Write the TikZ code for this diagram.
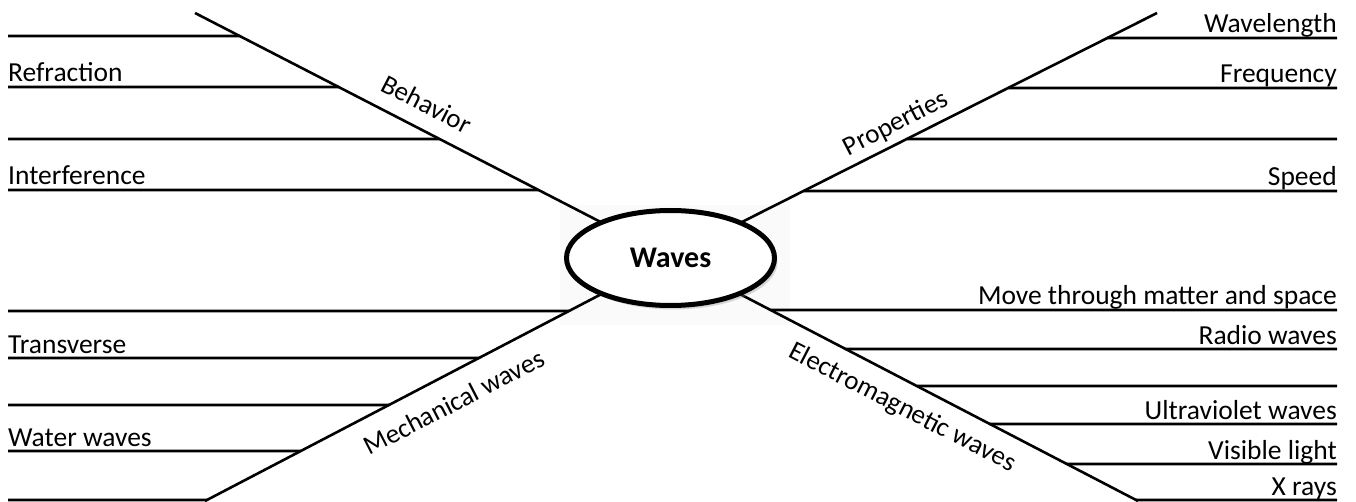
\documentclass[tikz,border=0pt]{standalone}
\usepackage{fontspec}
\setmainfont{Carlito}
\usetikzlibrary{shapes.geometric,shadows,calc}

\tikzset{
  spine/.style={line width=2.6pt},
  rule/.style={line width=2.6pt},
  leafleft/.style={anchor=base west, inner sep=0pt, font=\fontsize{27.5}{30}\selectfont},
  leafright/.style={anchor=base east, inner sep=0pt, font=\fontsize{27.5}{30}\selectfont},
  branchlabel/.style={inner sep=0pt, font=\fontsize{27}{30}\selectfont},
  hubnode/.style={ellipse, draw, line width=5pt, fill=white, minimum width=208pt,
    minimum height=95pt, font=\bfseries\fontsize{30}{34}\selectfont,
    drop shadow={opacity=0.3, shadow xshift=3pt, shadow yshift=-4pt}}
}

\begin{document}
\begin{tikzpicture}[x=1pt,y=-1pt]
    \useasboundingbox (0,0) rectangle (1356,502);

    % Faint backdrop behind the hub
    \fill[black!2] (560,205) rectangle (790,325);

    % Hub and outer ends of the four branches
    \coordinate (hub) at (670.5,258);
    \coordinate (bhv) at (195,13);
    \coordinate (prp) at (1157,13);
    \coordinate (mch) at (205,501);
    \coordinate (emw) at (1138,501);

    % Draw the four branches
    \foreach \e in {bhv,prp,mch,emw} {
        \draw[spine] (\e) -- (hub);
    }

    % Behavior
    \foreach \y/\txt in {36/{},87/Refraction,139/{},190/Interference} {
        \draw[rule] (8,\y) -- ($(bhv)!{(\y-13)/245}!(hub)$);
        \node[leafleft] (bhv-\y) at (8,\y-5) {\txt};
    }
    \node[branchlabel, rotate=-27.3] (bhv-label) at (427,104) {Behavior};

    % Properties
    \foreach \y/\txt in {38/Wavelength,88/Frequency,139/{},191/Speed} {
        \draw[rule] ($(prp)!{(\y-13)/245}!(hub)$) -- (1337,\y);
        \node[leafright] (prp-\y) at (1337,\y-5) {\txt};
    }
    \node[branchlabel, rotate=27.3] (prp-label) at (896,124) {Properties};

    % Mechanical waves
    \foreach \y/\txt in {311/{},358/Transverse,405/{},451/Water waves,500/{}} {
        \draw[rule] (8,\y) -- ($(mch)!{(501-\y)/243}!(hub)$);
        \node[leafleft] (mch-\y) at (8,\y-5) {\txt};
    }
    \node[branchlabel, rotate=27.3] (mch-label) at (454,402) {Mechanical waves};

    % Electromagnetic waves
    \foreach \y/\txt in {310/Move through matter and space,349/Radio waves,386/{},
                         424/Ultraviolet waves,464/Visible light,500/X rays} {
        \draw[rule] ($(emw)!{(501-\y)/243}!(hub)$) -- (1337,\y);
        \node[leafright] (emw-\y) at (1337,\y-5) {\txt};
    }
    \node[branchlabel, rotate=-27.3] (emw-label) at (902,408) {Electromagnetic waves};

    % Central topic
    \node[hubnode] (waves) at (hub) {Waves};
\end{tikzpicture}
\end{document}
